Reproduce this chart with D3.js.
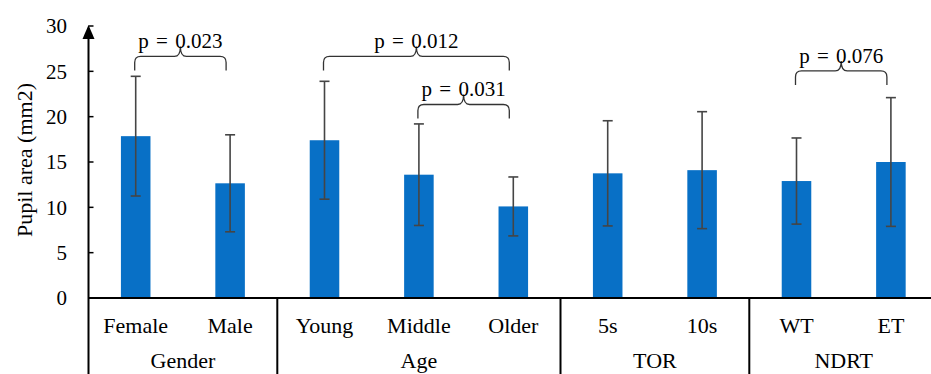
<!DOCTYPE html>
<html>
<head>
<meta charset="utf-8">
<script src="https://cdn.jsdelivr.net/npm/d3@7"></script>
<style>
  html, body { margin: 0; padding: 0; background: #fff; }
  svg { display: block; font-family: "Liberation Serif", "Times New Roman", serif; }
</style>
</head>
<body>
<svg id="chart" width="931" height="374"></svg>
<script>
// data
const categories = ['Female', 'Male', 'Young', 'Middle', 'Older', '5s', '10s', 'WT', 'ET']
const groups = ['Gender', 'Gender', 'Age', 'Age', 'Age', 'TOR', 'TOR', 'NDRT', 'NDRT']
const means = [17.85, 12.65, 17.4, 13.6, 10.1, 13.75, 14.1, 12.9, 15.0]
const sds = [6.6, 5.35, 6.5, 5.6, 3.25, 5.8, 6.45, 4.75, 7.1]
const yTicks = [0, 5, 10, 15, 20, 25, 30]

// significance brackets: between two categories, bracket foot level in data units
const compFrom = ['Female', 'Young', 'Middle', 'WT']
const compTo = ['Male', 'Older', 'Older', 'ET']
const compLevel = [25.1, 25.1, 19.8, 23.5]
const compLabel = ['p = 0.023', 'p = 0.012', 'p = 0.031', 'p = 0.076']

const svg = d3.select('#chart')
const W = 931, H = 374
const x0 = 88.5, band = 94.4
const yBase = 298, yTop = 26

const x = d3.scaleBand()
  .domain(categories)
  .range([x0, x0 + band * categories.length])

const y = d3.scaleLinear()
  .domain([0, 30])
  .range([yBase, yTop])

const barW = x.bandwidth() * 0.313
const cx = d => x(d) + x.bandwidth() / 2

// ------------------
// Bars
// ------------------
svg.append('g')
  .selectAll('rect')
  .data(categories)
  .join('rect')
  .attr('x', d => cx(d) - barW / 2)
  .attr('y', (d, i) => y(means[i]))
  .attr('width', barW)
  .attr('height', (d, i) => y(0) - y(means[i]))
  .attr('fill', '#0870c6')

// ------------------
// Error bars
// ------------------
const eb = svg.append('g')
  .attr('stroke', '#454545')
  .attr('stroke-width', 1.6)

categories.forEach((c, i) => {
  const hi = y(means[i] + sds[i]), lo = y(means[i] - sds[i])
  eb.append('line').attr('x1', cx(c)).attr('x2', cx(c)).attr('y1', hi).attr('y2', lo)
  eb.append('line').attr('x1', cx(c) - 5).attr('x2', cx(c) + 5).attr('y1', hi).attr('y2', hi)
  eb.append('line').attr('x1', cx(c) - 5).attr('x2', cx(c) + 5).attr('y1', lo).attr('y2', lo)
})

// ------------------
// Axes
// ------------------
const axis = svg.append('g')
// y axis with arrow
axis.append('line')
  .attr('x1', x0).attr('x2', x0)
  .attr('y1', yTop + 8).attr('y2', H)
  .attr('stroke', '#000').attr('stroke-width', 2)
axis.append('path')
  .attr('d', `M${x0},${yTop - 1} L${x0 - 6},${yTop + 13} L${x0 + 6},${yTop + 13} Z`)
  .attr('fill', '#000')

axis.selectAll('.tick')
  .data(yTicks)
  .join('line')
  .attr('x1', x0).attr('x2', x0 + 5)
  .attr('y1', d => y(d)).attr('y2', d => y(d))
  .attr('stroke', '#000').attr('stroke-width', 1.5)

axis.selectAll('.tlabel')
  .data(yTicks)
  .join('text')
  .attr('x', 67)
  .attr('y', d => y(d))
  .attr('dy', '0.35em')
  .attr('text-anchor', 'end')
  .attr('font-size', 21)
  .text(d => d)

// x baseline
axis.append('line')
  .attr('x1', x0).attr('x2', W)
  .attr('y1', yBase).attr('y2', yBase)
  .attr('stroke', '#000').attr('stroke-width', 2)

// group separators
const groupNames = Array.from(new Set(groups))
const groupSpan = groupNames.map(g => {
  const idx = groups.map((v, i) => v === g ? i : -1).filter(i => i >= 0)
  return { name: g, start: x(categories[idx[0]]), end: x(categories[idx[idx.length - 1]]) + x.bandwidth() }
})

groupSpan.slice(0, -1).forEach(g => {
  axis.append('line')
    .attr('x1', g.end).attr('x2', g.end)
    .attr('y1', yBase).attr('y2', H)
    .attr('stroke', '#000').attr('stroke-width', 2)
})

// category labels
axis.selectAll('.clabel')
  .data(categories)
  .join('text')
  .attr('x', d => cx(d))
  .attr('y', 333)
  .attr('text-anchor', 'middle')
  .attr('font-size', 22)
  .text(d => d)

// group labels (sit right at the bottom edge, as in the reference)
axis.selectAll('.glabel')
  .data(groupSpan)
  .join('text')
  .attr('x', d => (d.start + d.end) / 2)
  .attr('y', 368)
  .attr('text-anchor', 'middle')
  .attr('font-size', 22)
  .text(d => d.name)

// y title
svg.append('text')
  .attr('transform', `translate(32,160) rotate(-90)`)
  .attr('text-anchor', 'middle')
  .attr('font-size', 22)
  .text('Pupil area (mm2)')

// ------------------
// Significance brackets
// ------------------
const br = svg.append('g')

function bracePath(xa, xb, yb) {
  const yh = yb - 14, ya = yh - 10, xm = (xa + xb) / 2, r = 6
  return `M${xa},${yb} L${xa},${yh + r} Q${xa},${yh} ${xa + r},${yh} ` +
    `L${xm - r},${yh} Q${xm},${yh} ${xm},${ya} ` +
    `Q${xm},${yh} ${xm + r},${yh} L${xb - r},${yh} Q${xb},${yh} ${xb},${yh + r} L${xb},${yb}`
}

compFrom.forEach((a, i) => {
  const xa = cx(a) - 1
  const xb = cx(compTo[i]) - 4
  const yb = y(compLevel[i])
  br.append('path')
    .attr('d', bracePath(xa, xb, yb))
    .attr('fill', 'none')
    .attr('stroke', '#333')
    .attr('stroke-width', 1.3)
  br.append('text')
    .attr('x', (xa + xb) / 2)
    .attr('y', yb - 22)
    .attr('text-anchor', 'middle')
    .attr('font-size', 21)
    .attr('word-spacing', 2)
    .text(compLabel[i])
})
</script>
</body>
</html>
